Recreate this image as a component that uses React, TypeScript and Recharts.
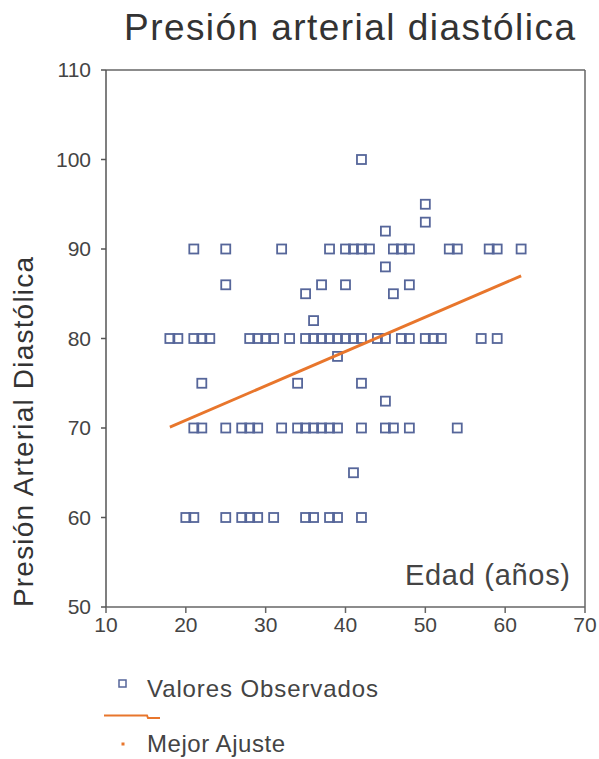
import { ScatterChart, Scatter, XAxis, YAxis, ReferenceLine } from 'recharts'

// axis ticks
const xTicks = [10, 20, 30, 40, 50, 60, 70]
const yTicks = [50, 60, 70, 80, 90, 100, 110]

// observed values, grouped by diastolic pressure (mmHg) -> ages (años)
const pressureLevels = [100, 95, 93, 92, 90, 88, 86, 85, 82, 80, 78, 75, 73, 70, 65, 60]
const agesAtLevel = [
  [42],
  [50],
  [50],
  [45],
  [21, 25, 32, 38, 40, 41, 42, 43, 46, 47, 48, 53, 54, 58, 59, 62],
  [45],
  [25, 37, 40, 48],
  [35, 46],
  [36],
  [18, 19, 21, 22, 23, 28, 29, 30, 31, 33, 35, 36, 37, 38, 39, 40, 41, 42, 44, 45, 47, 48, 50, 51, 52, 57, 59],
  [39],
  [22, 34, 42],
  [45],
  [21, 22, 25, 27, 28, 29, 32, 34, 35, 36, 37, 38, 39, 42, 45, 46, 48, 54],
  [41],
  [20, 21, 25, 27, 28, 29, 31, 35, 36, 38, 39, 42],
]

// best fit line end points
const fitAges = [18, 62]
const fitPressure = [70.1, 87.0]

const observed = pressureLevels.flatMap((p, i) => agesAtLevel[i].map((a) => ({ x: a, y: p })))
const fitData = fitAges.map((a, i) => ({ x: a, y: fitPressure[i] }))

const BLUE = '#56669a'
const ORANGE = '#e8762c'
const FONT = '"Liberation Sans", Arial, sans-serif'

const Square = (props: any) => {
  const { cx, cy } = props
  return (
    <rect x={cx - 4.5} y={cy - 4.5} width={9} height={9} fill="none" stroke={BLUE} strokeWidth={1.8} />
  )
}

export default function App() {
  return (
    <div style={{ position: 'absolute', left: 0, top: 0, width: 599, height: 759, background: '#fff' }}>
      <ScatterChart
        width={599}
        height={759}
        margin={{ top: 70, right: 14, bottom: 112, left: 46 }}
        style={{ fontFamily: FONT }}
      >
        <XAxis
          type="number"
          dataKey="x"
          domain={[10, 70]}
          ticks={xTicks}
          height={40}
          stroke="#666"
          strokeWidth={1.5}
          tickSize={6}
          tickMargin={4}
          tick={{ fontSize: 21, fill: '#444' }}
        />
        <YAxis
          type="number"
          dataKey="y"
          domain={[50, 110]}
          ticks={yTicks}
          width={60}
          stroke="#555"
          strokeWidth={1.5}
          tickSize={5}
          tickMargin={10}
          tick={{ fontSize: 21, fill: '#444' }}
        />
        <ReferenceLine y={110} stroke="#666" strokeWidth={1.5} />
        <ReferenceLine x={70} stroke="#666" strokeWidth={1.5} />
        <Scatter data={observed} shape={Square} isAnimationActive={false} />
        <Scatter
          data={fitData}
          line={{ stroke: ORANGE, strokeWidth: 2.8 }}
          shape={() => <g />}
          isAnimationActive={false}
        />
      </ScatterChart>

      <svg
        width={599}
        height={759}
        style={{ position: 'absolute', left: 0, top: 0, pointerEvents: 'none', fontFamily: FONT }}
      >
        <text x={124} y={40} fontSize={37} fill="#333" textLength={451} lengthAdjust="spacing">
          Presión arterial diastólica
        </text>
        <text
          x={33}
          y={607}
          transform="rotate(-90, 33, 607)"
          fontSize={28}
          fill="#333"
          textLength={350}
          lengthAdjust="spacing"
        >
          Presión Arterial Diastólica
        </text>
        <text x={405} y={585} fontSize={29} fill="#444" textLength={165} lengthAdjust="spacing">
          Edad (años)
        </text>

        {/* legend */}
        <rect x={119} y={680} width={7} height={7} fill="none" stroke={BLUE} strokeWidth={1.5} />
        <text x={147} y={697} fontSize={24} fill="#444" textLength={231} lengthAdjust="spacing">
          Valores Observados
        </text>
        <polyline points="104,715.5 147,715.5 148,718 160,718" fill="none" stroke={ORANGE} strokeWidth={2} />
        <rect x={121.5} y={742.5} width={3} height={3} fill={ORANGE} />
        <text x={147} y={752} fontSize={24} fill="#444" textLength={138} lengthAdjust="spacing">
          Mejor Ajuste
        </text>
      </svg>
    </div>
  )
}
